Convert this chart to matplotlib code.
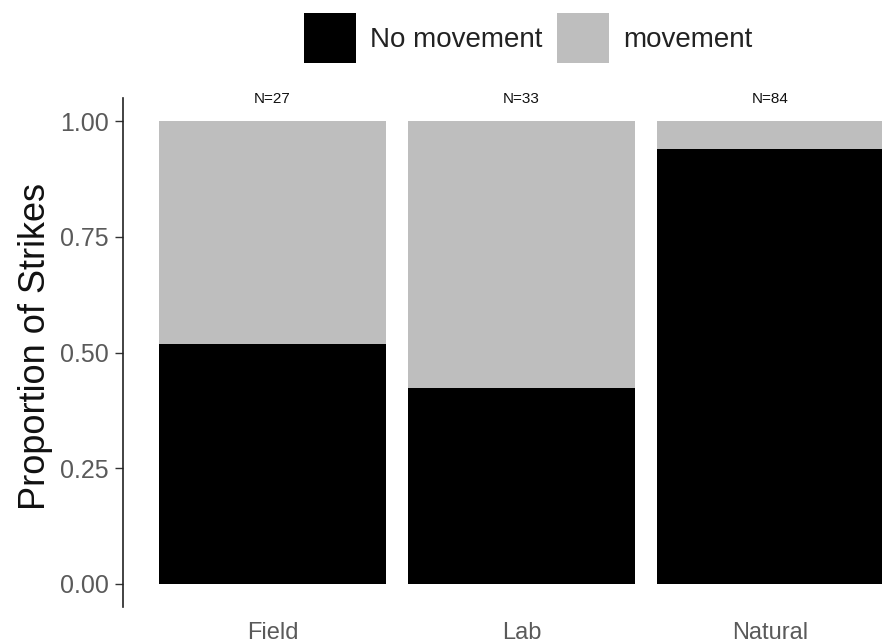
import matplotlib
matplotlib.use("Agg")
import matplotlib.pyplot as plt
from matplotlib.patches import Patch

categories = ["Field", "Lab", "Natural"]
no_movement = [14/27, 14/33, 79/84]
movement = [1 - v for v in no_movement]
n_labels = ["N=27", "N=33", "N=84"]
series_names = ["No movement", "movement"]
yticks = [0.0, 0.25, 0.5, 0.75, 1.0]
ytick_labels = ["0.00", "0.25", "0.50", "0.75", "1.00"]

plt.rcParams['font.family'] = ['Liberation Sans', 'DejaVu Sans']

W, H = 882, 644
fig = plt.figure(figsize=(W/100, H/100), dpi=100)
left, right, top, bottom = 123, 920, 98, 607
ax = fig.add_axes([left/W, (H-bottom)/H, (right-left)/W, (bottom-top)/H])

x = list(range(len(categories)))
ax.bar(x, no_movement, width=0.91, color="black", label=series_names[0])
ax.bar(x, movement, width=0.91, bottom=no_movement, color="#BEBEBE", label=series_names[1])

for xi, lab in zip(x, n_labels):
    ax.text(xi, 1.047, lab, ha="center", va="center", fontsize=11, color="#111111")

ax.set_xlim(-0.6, 2.6)
ax.set_ylim(-0.05, 1.05)
ax.set_yticks(yticks)
ax.set_yticklabels(ytick_labels)
ax.set_xticks(x)
ax.set_xticklabels(categories)
ax.tick_params(axis="y", length=6, width=1, color="#333333", labelsize=18, labelcolor="#5a5a5a", pad=4)
ax.tick_params(axis="x", length=0, labelsize=17, labelcolor="#5a5a5a", pad=11)
for s in ["top", "right", "bottom"]:
    ax.spines[s].set_visible(False)
ax.spines["left"].set_linewidth(1.2)
ax.spines["left"].set_color("#222222")
ax.set_ylabel("Proportion of Strikes", fontsize=26, color="#111111")
ax.yaxis.set_label_coords(-0.0878, 0.512)

handles = [Patch(facecolor="black"), Patch(facecolor="#BEBEBE")]
fig.legend(handles, series_names, loc="center", bbox_to_anchor=(528/W, 1 - 38/H), ncol=2,
           frameon=False, fontsize=20, handlelength=1.9, handleheight=2.35,
           handletextpad=0.5, columnspacing=0.5, labelcolor="#222222")

fig.savefig("out.png", dpi=100)
